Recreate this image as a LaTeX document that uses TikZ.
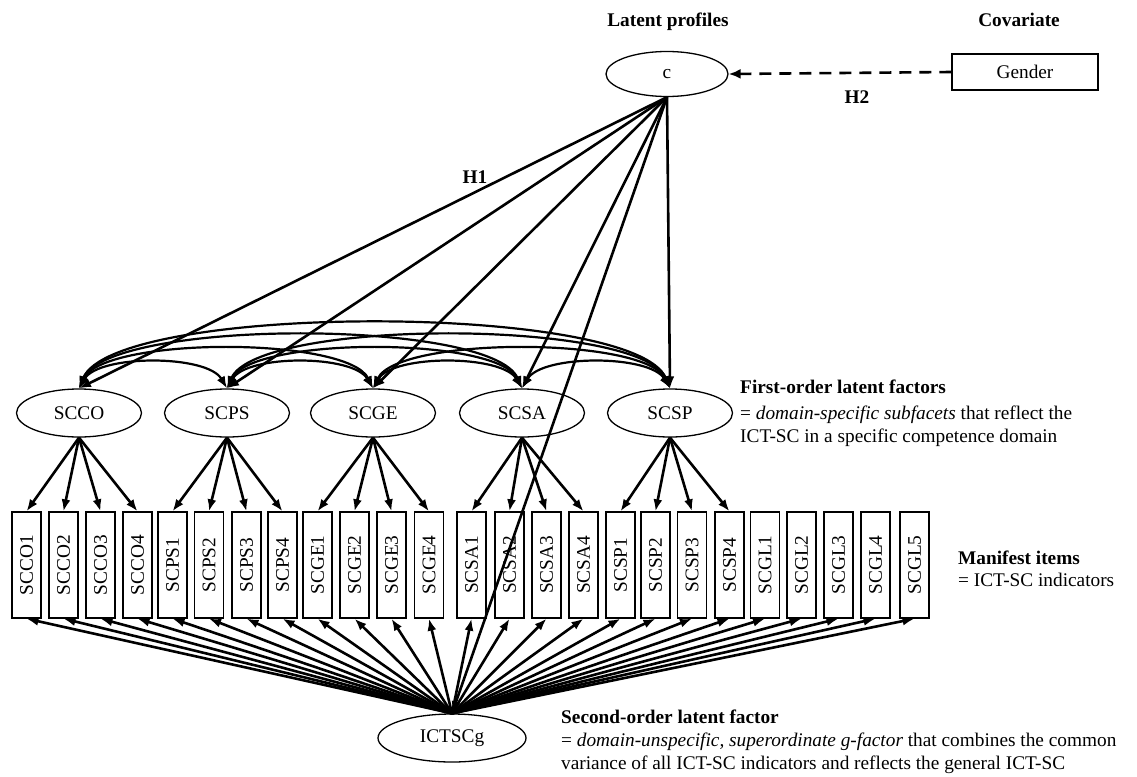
\documentclass[tikz,border=0pt]{standalone}
\usepackage{fontspec}
\setmainfont{Liberation Serif}
\usepackage{graphicx}
\usetikzlibrary{arrows.meta,shapes.geometric}
\begin{document}
\begin{tikzpicture}[x=1pt,y=-1pt,
  font=\fontsize{19.3}{23}\selectfont,
  lat/.style={ellipse,draw,line width=1.3pt,minimum width=125pt,minimum height=48pt,inner sep=0pt},
  itembox/.style={rectangle,draw,line width=1.3pt,minimum width=29pt,minimum height=106pt,inner sep=0pt},
  arr/.style={line width=2.6pt,-{Latex[length=12pt,width=9pt]}},
  darr/.style={line width=2.2pt,{Latex[length=12pt,width=9pt]}-{Latex[length=12pt,width=9pt]}},
  dasharr/.style={line width=2.6pt,dash pattern=on 12pt off 8pt,-{Latex[length=12pt,width=10pt]}},
  lbl/.style={anchor=base west,inner sep=0pt}
]
\useasboundingbox (0,0) rectangle (1137,776);

% headings
\node[anchor=base,inner sep=0pt] (hlp) at (668,26.5) {\textbf{Latent profiles}};
\node[anchor=base,inner sep=0pt] (hcov) at (1019,26.5) {\textbf{Covariate}};

% top nodes
\node[ellipse,draw,line width=1.3pt,minimum width=122pt,minimum height=45pt,inner sep=0pt] (c) at (667,74) {c};
\node[rectangle,draw,line width=1.3pt,minimum width=146pt,minimum height=36pt,inner sep=0pt] (gender) at (1025,72) {Gender};
\draw[dasharr] (gender.west) -- (c.east);
\node[inner sep=0pt] (h2) at (857,97) {\textbf{H2}};
\node[inner sep=0pt] (h1) at (475,177) {\textbf{H1}};

% first-order factors
\foreach \n/\x in {SCCO/79,SCPS/227,SCGE/373,SCSA/522,SCSP/670}
  \node[lat] (\n) at (\x,413) {\n};

% items
\foreach \n/\x in {SCCO1/26.5,SCCO2/63.5,SCCO3/100.5,SCCO4/137.5,
  SCPS1/172.5,SCPS2/209,SCPS3/246.5,SCPS4/282.5,
  SCGE1/317.5,SCGE2/354.5,SCGE3/391.5,SCGE4/429,
  SCSA1/471.5,SCSA2/509.5,SCSA3/546.5,SCSA4/583.5,
  SCSP1/620.5,SCSP2/655.5,SCSP3/692,SCSP4/729.5,
  SCGL1/765,SCGL2/801.5,SCGL3/838.5,SCGL4/875.5,SCGL5/914.5}
  \node[itembox] (\n) at (\x,565) {\rotatebox{90}{\n}};

% second-order factor
\node[ellipse,draw,line width=1.3pt,minimum width=148pt,minimum height=48pt,inner sep=0pt] (g) at (452,738) {ICTSCg};

% loadings first-order
\foreach \f in {SCCO,SCPS,SCGE,SCSA,SCSP}
  \foreach \k in {1,2,3,4}
    \draw[arr] (\f.south) -- (\f\k.north);

% loadings second-order
\foreach \i in {SCCO1,SCCO2,SCCO3,SCCO4,SCPS1,SCPS2,SCPS3,SCPS4,
  SCGE1,SCGE2,SCGE3,SCGE4,SCSA1,SCSA2,SCSA3,SCSA4,
  SCSP1,SCSP2,SCSP3,SCSP4,SCGL1,SCGL2,SCGL3,SCGL4,SCGL5}
  \draw[arr] (g.north) -- (\i.south);

% correlations among first-order factors
\draw[darr] (SCCO.north) .. controls +(20,-34) and +(-20,-34) .. (SCPS.north);
\draw[darr] (SCPS.north) .. controls +(20,-34) and +(-20,-34) .. (SCGE.north);
\draw[darr] (SCGE.north) .. controls +(20,-34) and +(-20,-34) .. (SCSA.north);
\draw[darr] (SCSA.north) .. controls +(20,-34) and +(-20,-34) .. (SCSP.north);
\draw[darr] (SCCO.north) .. controls +(25,-52) and +(-25,-52) .. (SCGE.north);
\draw[darr] (SCPS.north) .. controls +(25,-52) and +(-25,-52) .. (SCSA.north);
\draw[darr] (SCGE.north) .. controls +(25,-52) and +(-25,-52) .. (SCSP.north);
\draw[darr] (SCCO.north) .. controls +(30,-70) and +(-30,-70) .. (SCSA.north);
\draw[darr] (SCPS.north) .. controls +(30,-70) and +(-30,-70) .. (SCSP.north);
\draw[darr] (SCCO.north) .. controls +(35,-86) and +(-35,-86) .. (SCSP.north);

% c to first-order factors (H1)
\foreach \f in {SCCO,SCPS,SCGE,SCSA,SCSP}
  \draw[arr] (c.south) -- (\f.north);
\draw[arr] (c.south) -- (g.north);

% annotations
\node[lbl] (a1) at (740,393.5) {\textbf{First-order latent factors}};
\node[lbl] (a2) at (740,419.5) {= \textit{domain-specific subfacets} that reflect the};
\node[lbl] (a3) at (740,442.5) {ICT-SC in a specific competence domain};
\node[lbl] (b1) at (958,564.5) {\textbf{Manifest items}};
\node[lbl] (b2) at (958,586) {= ICT-SC indicators};
\node[lbl] (d1) at (561,723) {\textbf{Second-order latent factor}};
\node[lbl] (d2) at (561,746.5) {= \textit{domain-unspecific, superordinate g-factor} that combines the common};
\node[lbl] (d3) at (561,769.5) {variance of all ICT-SC indicators and reflects the general ICT-SC};
\end{tikzpicture}
\end{document}
